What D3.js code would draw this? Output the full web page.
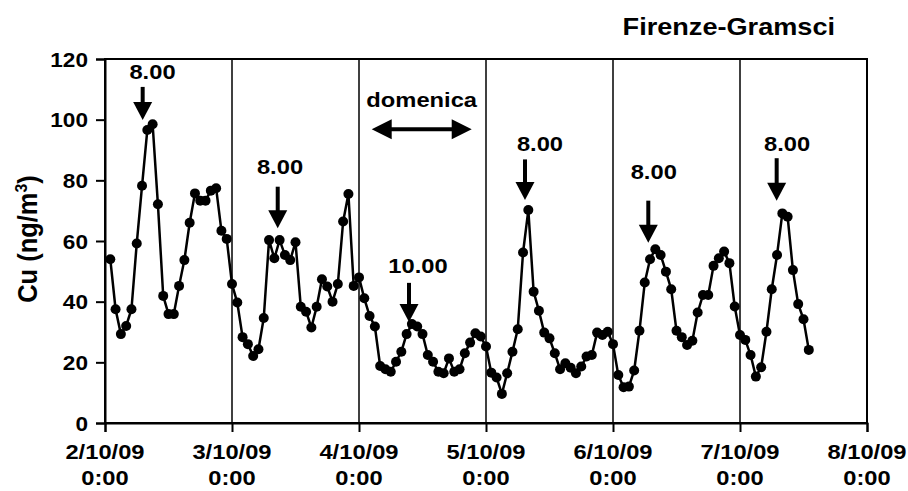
<!DOCTYPE html>
<html>
<head>
<meta charset="utf-8">
<script src="https://cdn.jsdelivr.net/npm/d3@7"></script>
<style>
  html, body { margin: 0; padding: 0; background: #fff; }
  svg { display: block; }
  text { font-family: "Liberation Sans", Arial, sans-serif; font-weight: bold; fill: #000; }
</style>
</head>
<body>
<svg id="chart" width="908" height="491"></svg>
<script>
// Hourly Cu concentrations (ng/m3), Firenze-Gramsci station, starting 2/10/09 01:00
const hours = d3.range(1, 134);
const cu = [
  54.0, 37.5, 29.3, 32.0, 37.5, 59.2, 78.2, 96.6, 98.5, 72.1,
  41.9, 35.9, 35.9, 45.2, 53.7, 66.0, 75.7, 73.3, 73.3, 76.6,
  77.4, 63.4, 60.7, 45.8, 39.7, 28.3, 26.0, 22.1, 24.3, 34.6,
  60.3, 54.3, 60.3, 55.4, 53.7, 59.6, 38.3, 36.7, 31.5, 38.3,
  47.4, 45.0, 40.0, 45.8, 66.4, 75.5, 45.2, 48.0, 41.1, 35.3,
  31.8, 18.8, 17.7, 16.9, 20.2, 23.5, 29.3, 32.6, 31.8, 29.3,
  22.4, 20.2, 16.9, 16.4, 21.3, 16.9, 17.7, 23.0, 26.5, 29.6,
  28.5, 25.2, 16.6, 15.0, 9.6, 16.4, 23.5, 30.9, 56.2, 70.2,
  43.3, 37.0, 29.8, 27.9, 23.0, 17.7, 19.7, 18.2, 16.4, 18.6,
  21.9, 22.4, 29.8, 29.0, 30.1, 26.0, 15.8, 11.8, 12.0, 17.3,
  30.4, 46.3, 54.0, 57.3, 55.4, 49.9, 44.1, 30.4, 28.3, 25.7,
  27.1, 36.4, 42.2, 42.2, 51.8, 54.3, 56.5, 52.7, 38.4, 29.0,
  27.4, 22.4, 15.3, 18.4, 30.1, 44.1, 55.4, 69.1, 68.0, 50.4,
  39.2, 34.2, 24.1
];

// Axis ticks
const dayTicks = d3.range(0, 7);                 // days after 2/10/09 0:00
const dayLabels = ["2/10/09", "3/10/09", "4/10/09", "5/10/09", "6/10/09", "7/10/09", "8/10/09"];
const timeLabel = "0:00";
const yTicks = [0, 20, 40, 60, 80, 100, 120];

// Peak annotations: arrow hour, label hour, tip / tail / label levels (data units)
const peakText  = ["8.00", "8.00", "10.00", "8.00", "8.00", "8.00"];
const peakHour  = [7.12, 32.64, 57.45, 79.37, 102.67, 126.93];
const labelHour = [8.98, 33.07, 59.15, 82.2, 103.7, 128.9];
const tipLevel  = [99.9, 64.2, 33.3, 73.5, 59.4, 73.3];
const tailLevel = [110.8, 77.9, 46.2, 86.9, 73.3, 87.3];
const textLevel = [113.4, 82.1, 49.5, 89.8, 80.3, 89.8];

// Sunday span
const sundayText = "domenica";
const sundaySpan = [50.4, 69.3];
const sundayLevel = 96.8;
const sundayTextLevel = 104.1;

const title = "Firenze-Gramsci";

const svg = d3.select("#chart");
const M = { left: 105, right: 867, top: 59, bottom: 423 };
const SX = 1.13; // wide glyph proportions of the labels

const x = d3.scaleLinear().domain([0, 144]).range([M.left, M.right]);
const y = d3.scaleLinear().domain([0, 120]).range([M.bottom, M.top]);

function label(parent, px, py, str, size, anchor) {
  return parent.append("text")
    .attr("transform", `translate(${px},${py}) scale(${SX},1)`)
    .attr("text-anchor", anchor || "middle")
    .style("font-size", size + "px")
    .text(str);
}

// Day separators
svg.append("g")
  .selectAll("line")
  .data(dayTicks.slice(1, -1))
  .join("line")
  .attr("x1", d => x(d * 24)).attr("x2", d => x(d * 24))
  .attr("y1", M.top).attr("y2", M.bottom)
  .attr("stroke", "#000").attr("stroke-width", 1.5);

// Plot frame
svg.append("rect")
  .attr("x", M.left).attr("y", M.top)
  .attr("width", M.right - M.left).attr("height", M.bottom - M.top)
  .attr("fill", "none").attr("stroke", "#000").attr("stroke-width", 2);

// Y axis
const yAxis = d3.axisLeft(y).tickValues(yTicks).tickSize(9).tickFormat("");
const gy = svg.append("g").attr("transform", `translate(${M.left},0)`).call(yAxis);
gy.select(".domain").attr("stroke-width", 2);
gy.selectAll(".tick line").attr("stroke-width", 2);
yTicks.forEach(v => label(svg, 88, y(v) + 7.5, String(v), 20, "end"));

// X axis
const xAxis = d3.axisBottom(x).tickValues(dayTicks.map(d => d * 24)).tickSize(9).tickFormat("");
const gx = svg.append("g").attr("transform", `translate(0,${M.bottom})`).call(xAxis);
gx.select(".domain").attr("stroke-width", 2);
gx.selectAll(".tick line").attr("stroke-width", 2);
dayTicks.forEach((d, i) => {
  label(svg, x(d * 24), 459, dayLabels[i], 21);
  label(svg, x(d * 24), 485, timeLabel, 21);
});

// Y axis title
const yt = svg.append("text")
  .attr("transform", `translate(37,${(M.top + M.bottom) / 2 - 2}) rotate(-90) scale(1.06,${SX})`)
  .attr("text-anchor", "middle")
  .style("font-size", "24px");
yt.append("tspan").text("Cu (ng/m");
yt.append("tspan").attr("dy", -9).style("font-size", "15px").text("3");
yt.append("tspan").attr("dy", 9).text(")");

// Station title
label(svg, 835, 35, title, 24, "end");

// Series line and markers
const pts = hours.map((h, i) => [h, cu[i]]);
svg.append("path")
  .datum(pts)
  .attr("fill", "none")
  .attr("stroke", "#000")
  .attr("stroke-width", 2.5)
  .attr("stroke-linejoin", "round")
  .attr("d", d3.line().x(d => x(d[0])).y(d => y(d[1])));
svg.append("g")
  .selectAll("circle")
  .data(pts)
  .join("circle")
  .attr("cx", d => x(d[0])).attr("cy", d => y(d[1]))
  .attr("r", 5)
  .attr("fill", "#000");

// Peak arrows
const headLen = 18, headHalf = 9.5;
peakText.forEach((t, i) => {
  const ax = x(peakHour[i]);
  const tip = y(tipLevel[i]);
  const tail = y(tailLevel[i]);
  svg.append("line")
    .attr("x1", ax).attr("x2", ax)
    .attr("y1", tail).attr("y2", tip - headLen + 1)
    .attr("stroke", "#000").attr("stroke-width", 4);
  svg.append("path")
    .attr("d", `M${ax - headHalf},${tip - headLen} L${ax + headHalf},${tip - headLen} L${ax},${tip} Z`)
    .attr("fill", "#000");
  label(svg, x(labelHour[i]), y(textLevel[i]), t, 21);
});

// Sunday double arrow
{
  const x0 = x(sundaySpan[0]), x1 = x(sundaySpan[1]);
  const yy = y(sundayLevel);
  const hl = 20, hh = 10;
  svg.append("line")
    .attr("x1", x0 + hl - 1).attr("x2", x1 - hl + 1)
    .attr("y1", yy).attr("y2", yy)
    .attr("stroke", "#000").attr("stroke-width", 4);
  svg.append("path")
    .attr("d", `M${x0},${yy} L${x0 + hl},${yy - hh} L${x0 + hl},${yy + hh} Z M${x1},${yy} L${x1 - hl},${yy - hh} L${x1 - hl},${yy + hh} Z`)
    .attr("fill", "#000");
  label(svg, (x0 + x1) / 2, y(sundayTextLevel), sundayText, 21);
}
</script>
</body>
</html>
